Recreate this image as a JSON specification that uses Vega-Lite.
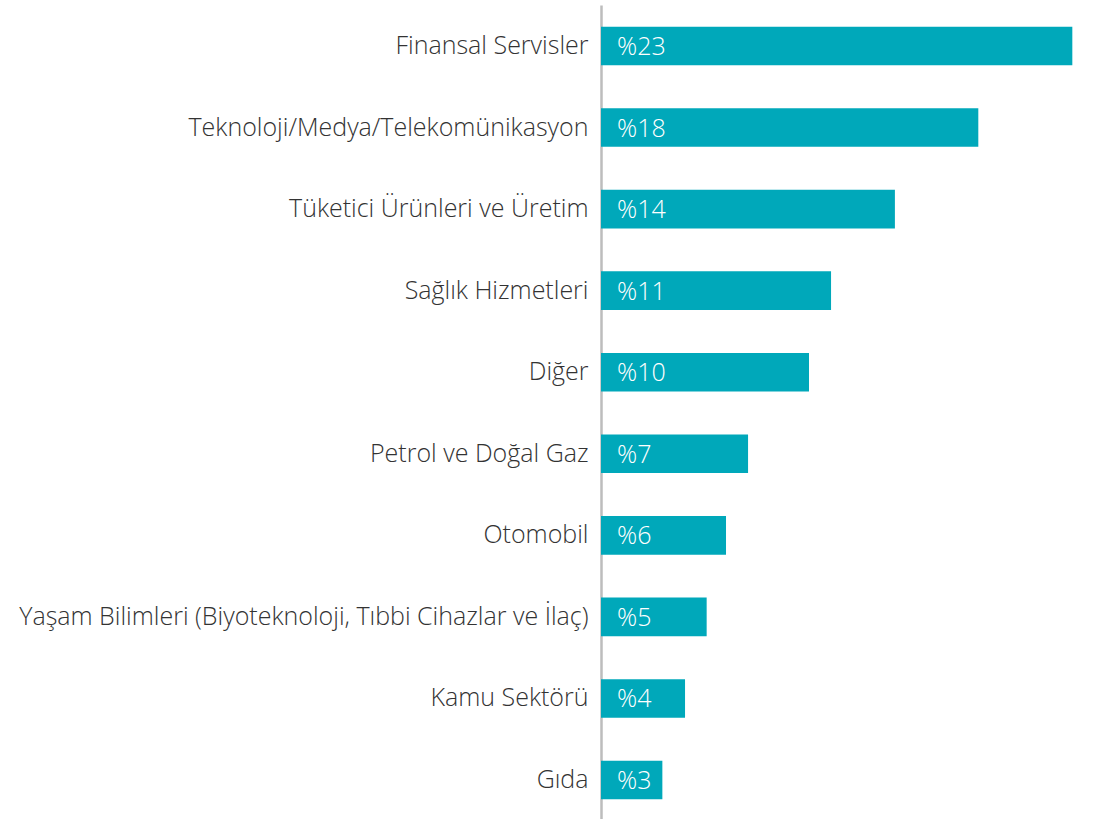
{
  "$schema": "https://vega.github.io/schema/vega-lite/v6.json",
  "autosize": {"type": "none"},
  "padding": {"left": 601, "top": 5, "right": 0, "bottom": 0},
  "width": 514,
  "height": 816,
  "background": "white",
  "config": {"view": {"stroke": null}},
  "data": {"values": [
    {"sector": "Finansal Servisler", "value": 22.66, "label": "%23"},
    {"sector": "Teknoloji/Medya/Telekomünikasyon", "value": 18.14, "label": "%18"},
    {"sector": "Tüketici Ürünleri ve Üretim", "value": 14.13, "label": "%14"},
    {"sector": "Sağlık Hizmetleri", "value": 11.06, "label": "%11"},
    {"sector": "Diğer", "value": 10.0, "label": "%10"},
    {"sector": "Petrol ve Doğal Gaz", "value": 7.07, "label": "%7"},
    {"sector": "Otomobil", "value": 6.01, "label": "%6"},
    {"sector": "Yaşam Bilimleri (Biyoteknoloji, Tıbbi Cihazlar ve İlaç)", "value": 5.08, "label": "%5"},
    {"sector": "Kamu Sektörü", "value": 4.04, "label": "%4"},
    {"sector": "Gıda", "value": 2.95, "label": "%3"}
  ]},
  "encoding": {
    "y": {
      "field": "sector", "type": "nominal", "sort": null,
      "scale": {"paddingInner": 0.527, "paddingOuter": 0.266},
      "axis": {
        "title": null, "ticks": false, "labelFont": "Open Sans", "labelFontWeight": 300,
        "labelFontSize": 25, "labelColor": "#333333", "labelPadding": 13, "labelLimit": 700,
        "domainColor": "#bdbdbd", "domainWidth": 2.5
      }
    }
  },
  "layer": [
    {
      "mark": {"type": "bar", "color": "#00a8ba"},
      "encoding": {
        "x": {"field": "value", "type": "quantitative", "scale": {"domain": [0, 25], "range": [0, 520], "nice": false}, "axis": null}
      }
    },
    {
      "mark": {"type": "text", "align": "left", "baseline": "middle", "dx": 16, "dy": 1, "color": "white", "font": "Open Sans", "fontWeight": 300, "fontSize": 25},
      "encoding": {
        "x": {"datum": 0, "type": "quantitative"},
        "text": {"field": "label"}
      }
    }
  ]
}
